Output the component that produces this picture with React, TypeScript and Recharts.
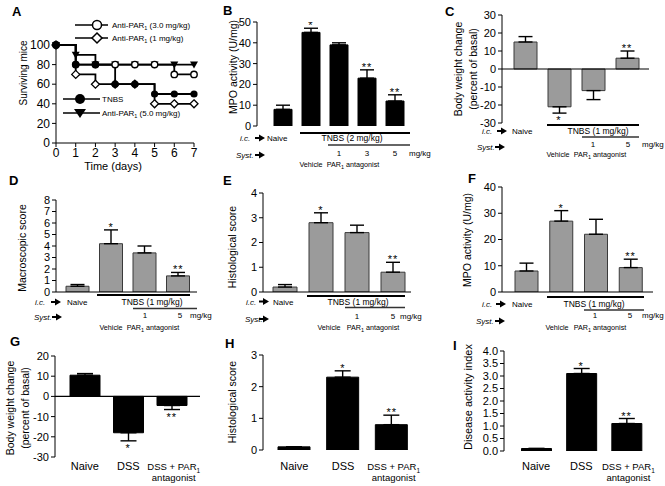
import React from 'react';
import { ComposedChart, LineChart, Bar, ErrorBar, Line, XAxis, YAxis, ReferenceLine } from 'recharts';

const FONT = '"Liberation Sans", Arial, Helvetica, sans-serif';

// A: survival (TNBS colitis)
const days = [0, 1, 2, 3, 4, 5, 6, 7];
const survTnbs = [100, 80, 80, 60, 60, 50, 50, 50];
const survPar5 = [100, 90, 80, 80, 80, 80, 80, 80];
const survPar3 = [100, 80, 80, 80, 80, 80, 70, 70];
const survPar1 = [100, 70, 60, 60, 60, 40, 40, 40];
const survTicksY = [0, 20, 40, 60, 80, 100];

// B: MPO, TNBS 2 mg/kg
const groupsB = ['Naive', 'Vehicle', '1', '3', '5'];
const mpoB = [8, 45, 39, 23, 12];
const mpoBErr = [2, 2, 1, 4, 3];
const starsB = ['', '*', '', '**', '**'];

// C-F: TNBS 1 mg/kg
const groupsTnbs = ['Naive', 'Vehicle', '1', '5'];
const starsTnbs = ['', '*', '', '**'];
const bwC = [15, -21, -12, 6];
const bwCErr = [3, 3.5, 5, 4];
const macroD = [0.5, 4.2, 3.4, 1.4];
const macroDErr = [0.15, 1.2, 0.6, 0.3];
const histoE = [0.2, 2.8, 2.4, 0.8];
const histoEErr = [0.1, 0.4, 0.3, 0.4];
const mpoF = [8, 27, 22, 9.3];
const mpoFErr = [3, 4, 5.7, 3.2];

// G-I: DSS colitis
const groupsDss = ['Naive', 'DSS', 'DSS + PAR1 antagonist'];
const starsDss = ['', '*', '**'];
const bwG = [10.5, -18, -4.5];
const bwGErr = [0.8, 4, 2];
const histoH = [0.1, 2.3, 0.8];
const histoHErr = [0, 0.2, 0.3];
const daiI = [0.1, 3.1, 1.1];
const daiIErr = [0, 0.2, 0.2];

const GRAY = '#9b9b9b';

const survData = days.map((d, i) => ({ day: d, tnbs: survTnbs[i], p5: survPar5[i], p3: survPar3[i], p1: survPar1[i] }));

const dotFilled = (p: any) => <circle key={p.index} cx={p.cx} cy={p.cy} r={3.6} fill="#000" />;
const dotOpen = (p: any) => <circle key={p.index} cx={p.cx} cy={p.cy} r={3.2} fill="#fff" stroke="#000" strokeWidth={1.4} />;
const dotDiamond = (p: any) => (
  <polygon key={p.index} points={`${p.cx},${p.cy - 4} ${p.cx + 4},${p.cy} ${p.cx},${p.cy + 4} ${p.cx - 4},${p.cy}`} fill="#fff" stroke="#000" strokeWidth={1.3} />
);
const dotTri = (p: any) => (
  <polygon key={p.index} points={`${p.cx - 4},${p.cy - 3} ${p.cx + 4},${p.cy - 3} ${p.cx},${p.cy + 4}`} fill="#000" />
);

function Survival() {
  const YW = 45, MT = 12, MR = 6, XH = 22;
  const L = 56, R = 194, T = 45, B = 143;
  const tick = { fontSize: 12, fill: '#000', fontFamily: FONT };
  return (
    <div style={{ position: 'absolute', left: L - YW, top: T - MT }}>
      <LineChart width={R - L + YW + MR} height={B - T + MT + XH} data={survData} margin={{ top: MT, right: MR, bottom: 0, left: 0 }}>
        <XAxis dataKey="day" type="number" domain={[0, 7]} ticks={days} interval={0} height={XH} tick={tick} tickSize={4} tickMargin={1} stroke="#000" />
        <YAxis type="number" domain={[0, 100]} ticks={survTicksY} interval={0} width={YW} tick={tick} tickSize={4} tickMargin={2} stroke="#000" />
        <Line type="stepAfter" dataKey="p1" stroke="#000" strokeWidth={1.8} dot={dotDiamond} activeDot={false} isAnimationActive={false} />
        <Line type="stepAfter" dataKey="p5" stroke="#000" strokeWidth={1.8} dot={dotTri} activeDot={false} isAnimationActive={false} />
        <Line type="stepAfter" dataKey="p3" stroke="#000" strokeWidth={1.8} dot={dotOpen} activeDot={false} isAnimationActive={false} />
        <Line type="stepAfter" dataKey="tnbs" stroke="#000" strokeWidth={1.8} dot={dotFilled} activeDot={false} isAnimationActive={false} />
      </LineChart>
    </div>
  );
}

function CatTick(props: any) {
  const { x, y, payload, off } = props;
  const v = String(payload.value);
  if (v.startsWith('DSS + PAR')) {
    return (
      <g fontSize={9.5} fontFamily={FONT} fill="#000">
        <text x={x + 2} y={y + off} textAnchor="middle">
          DSS + PAR<tspan fontSize={6.5} dy={3}>1</tspan>
        </text>
        <text x={x + 2} y={y + off + 11} textAnchor="middle">antagonist</text>
      </g>
    );
  }
  return (
    <text x={x} y={y + off} textAnchor="middle" fontSize={11} fontFamily={FONT} fill="#000">{v}</text>
  );
}

interface BarPanelProps {
  cats: string[]; values: number[]; errs: number[]; stars: string[];
  left: number; top: number; right: number; bottom: number;
  domain: [number, number]; ticks: number[]; fmt?: (v: number) => string;
  fill: string; barSize: number; padL: number; padR: number; capW: number;
  axisLine?: boolean; zeroLine?: boolean; catLabels?: boolean; labelOff?: number;
}

function BarPanel(p: BarPanelProps) {
  const YW = 46, MT = 14, MB = 8;
  const MR = p.catLabels ? 14 : 6;
  const XH = p.catLabels ? 36 : 1;
  const data = p.cats.map((c, i) => {
    const v = p.values[i], e = p.errs[i];
    return { cat: c, v, err: v >= 0 ? [0, e] : [e, 0], star: p.stars[i], starY: p.stars[i] ? (v >= 0 ? v + e : v - e) : null };
  });
  const tick = { fontSize: 11, fill: '#000', fontFamily: FONT };
  const renderStar = (d: any) => {
    const { cx, cy, payload, index } = d;
    if (!payload || !payload.star || cy == null || isNaN(cy)) return <g key={index} />;
    const below = payload.v < 0;
    return (
      <text key={index} x={cx} y={below ? cy + 11 : cy + 1} textAnchor="middle" fontSize={11} fontFamily={FONT} letterSpacing={1} fill="#000">{payload.star}</text>
    );
  };
  return (
    <div style={{ position: 'absolute', left: p.left - YW, top: p.top - MT }}>
      <ComposedChart width={p.right - p.left + YW + MR} height={p.bottom - p.top + MT + XH + MB} data={data} margin={{ top: MT, right: MR, bottom: MB, left: 0 }}>
        <XAxis dataKey="cat" type="category" height={XH} padding={{ left: p.padL, right: p.padR }} interval={0}
          tickLine={false} tickSize={0} tickMargin={0} axisLine={p.axisLine ? { stroke: '#000', strokeWidth: 1.2 } : false}
          tick={p.catLabels ? <CatTick off={p.labelOff} /> : false} />
        <YAxis type="number" domain={p.domain} ticks={p.ticks} interval={0} allowDataOverflow width={YW}
          tick={tick} tickSize={4} tickMargin={2} stroke="#000" tickFormatter={p.fmt} />
        {p.zeroLine && <ReferenceLine y={0} stroke="#000" strokeWidth={1.2} />}
        <Bar dataKey="v" fill={p.fill} stroke={p.fill === '#000' ? '#000' : '#3a3a3a'} strokeWidth={1} barSize={p.barSize} isAnimationActive={false}>
          <ErrorBar dataKey="err" width={p.capW} stroke="#000" strokeWidth={1.4} />
        </Bar>
        <Line dataKey="starY" stroke="none" dot={renderStar} activeDot={false} legendType="none" isAnimationActive={false} />
      </ComposedChart>
    </div>
  );
}

function Arrow({ x, y }: { x: number; y: number }) {
  return (
    <g>
      <line x1={x} y1={y} x2={x + 5} y2={y} stroke="#000" strokeWidth={2} />
      <polygon points={`${x + 4},${y - 3.5} ${x + 10},${y} ${x + 4},${y + 3.5}`} fill="#000" />
    </g>
  );
}

interface Treat {
  icX: number; icY: number; arrowX: number; naiveX: number;
  l1: number[]; tnbs: string; tnbsX: number; l2: number[];
  systX: number; systY: number; sArrowX: number; doseXs: number[]; doses: string[]; doseY: number; mgX: number;
  vehX: number; parX: number; vehY: number;
}

function Treatment(t: Treat) {
  return (
    <g fontFamily={FONT} fontSize={8} fill="#000">
      <text x={t.icX} y={t.icY} fontStyle="italic">i.c.</text>
      <Arrow x={t.arrowX} y={t.icY - 3} />
      <text x={t.naiveX} y={t.icY}>Naive</text>
      <line x1={t.l1[0]} x2={t.l1[1]} y1={t.l1[2]} y2={t.l1[2]} stroke="#000" strokeWidth={2} />
      <text x={t.tnbsX} y={t.icY} textAnchor="middle" fontSize={8.5}>{t.tnbs}</text>
      <line x1={t.l2[0]} x2={t.l2[1]} y1={t.l2[2]} y2={t.l2[2]} stroke="#333" strokeWidth={1.5} />
      <text x={t.systX} y={t.systY} fontStyle="italic">Syst.</text>
      <Arrow x={t.sArrowX} y={t.systY - 3} />
      {t.doseXs.map((x, i) => (
        <text key={i} x={x} y={t.doseY} textAnchor="middle">{t.doses[i]}</text>
      ))}
      <text x={t.mgX} y={t.doseY}>mg/kg</text>
      <text x={t.vehX} y={t.vehY} textAnchor="middle" fontSize={7.2}>Vehicle</text>
      <text x={t.parX} y={t.vehY} textAnchor="middle" fontSize={7.2}>
        PAR<tspan fontSize={5.5} dy={2}>1</tspan><tspan dy={-2}> antagonist</tspan>
      </text>
    </g>
  );
}

function VLabel({ x, y, text, size = 10.5 }: { x: number; y: number; text: string; size?: number }) {
  return (
    <text transform={`translate(${x},${y}) rotate(-90)`} textAnchor="middle" fontFamily={FONT} fontSize={size} fill="#000">{text}</text>
  );
}

function Letter({ x, y, t }: { x: number; y: number; t: string }) {
  return <text x={x} y={y} fontFamily={FONT} fontSize={13} fontWeight="bold" fill="#000">{t}</text>;
}

function Overlay() {
  return (
    <svg width={665} height={486} style={{ position: 'absolute', left: 0, top: 0, pointerEvents: 'none' }}>
      <Letter x={12} y={16} t="A" />
      <Letter x={223} y={15} t="B" />
      <Letter x={445} y={16} t="C" />
      <Letter x={9} y={185} t="D" />
      <Letter x={223} y={185} t="E" />
      <Letter x={468} y={183} t="F" />
      <Letter x={10} y={346} t="G" />
      <Letter x={225} y={348} t="H" />
      <Letter x={453} y={350} t="I" />

      {/* A legend */}
      <g fontFamily={FONT} fontSize={8} fill="#000">
        <line x1={75} x2={108} y1={25} y2={25} stroke="#000" strokeWidth={1.5} />
        <circle cx={97} cy={25} r={4.5} fill="#fff" stroke="#000" strokeWidth={1.5} />
        <text x={112} y={28}>Anti-PAR<tspan fontSize={5.5} dy={2}>1</tspan><tspan dy={-2}> (3.0 mg/kg)</tspan></text>
        <line x1={75} x2={108} y1={38} y2={38} stroke="#000" strokeWidth={1.5} />
        <polygon points="97,33 102,38 97,43 92,38" fill="#fff" stroke="#000" strokeWidth={1.5} />
        <text x={112} y={41}>Anti-PAR<tspan fontSize={5.5} dy={2}>1</tspan><tspan dy={-2}> (1 mg/kg)</tspan></text>
        <line x1={63} x2={100} y1={99} y2={99} stroke="#000" strokeWidth={1.5} />
        <circle cx={80} cy={99} r={5} fill="#000" />
        <text x={102} y={102}>TNBS</text>
        <line x1={63} x2={100} y1={113} y2={113} stroke="#000" strokeWidth={1.5} />
        <polygon points="74,109 86,109 80,118" fill="#000" />
        <text x={102} y={116}>Anti-PAR<tspan fontSize={5.5} dy={2}>1</tspan><tspan dy={-2}> (5.0 mg/kg)</tspan></text>
      </g>
      <text x={113} y={170} textAnchor="middle" fontFamily={FONT} fontSize={11} fill="#000">Time (days)</text>

      <VLabel x={27} y={73} text="Surviving mice" size={10} />
      <VLabel x={236.5} y={67} text="MPO activity (U/mg)" />
      <VLabel x={461.5} y={69} text="Body weight change" />
      <VLabel x={476.5} y={69} text="(percent of basal)" />
      <VLabel x={25.5} y={248} text="Macroscopic score" />
      <VLabel x={235.5} y={247} text="Histological score" />
      <VLabel x={470.5} y={240} text="MPO activity (U/mg)" />
      <VLabel x={13.5} y={408} text="Body weight change" />
      <VLabel x={28.5} y={408} text="(percent of basal)" />
      <VLabel x={235.5} y={402} text="Histological score" />
      <VLabel x={471.5} y={397} text="Disease activity index" size={11} />

      <Treatment icX={240} icY={141} arrowX={255} naiveX={267} l1={[300, 410, 133]} tnbs="TNBS (2 mg/kg)" tnbsX={352}
        l2={[328, 410, 145]} systX={236} systY={158} sArrowX={255} doseXs={[339, 367, 395]} doses={['1', '3', '5']} doseY={156}
        mgX={409} vehX={311} parX={353} vehY={167} />
      <Treatment icX={482} icY={134} arrowX={497} naiveX={512} l1={[547, 639, 125]} tnbs="TNBS (1 mg/kg)" tnbsX={598}
        l2={[582, 639, 137]} systX={477} systY={150} sArrowX={495} doseXs={[593, 628]} doses={['1', '5']} doseY={147}
        mgX={642} vehX={558} parX={600} vehY={157} />
      <Treatment icX={35} icY={305} arrowX={51} naiveX={67} l1={[97, 190, 295]} tnbs="TNBS (1 mg/kg)" tnbsX={152}
        l2={[133, 197, 308.5]} systX={34} systY={320} sArrowX={52} doseXs={[145, 180]} doses={['1', '5']} doseY={318}
        mgX={190} vehX={111} parX={153} vehY={330} />
      <Treatment icX={246} icY={304.5} arrowX={259} naiveX={273} l1={[307, 405, 296]} tnbs="TNBS (1 mg/kg)" tnbsX={358}
        l2={[345, 405, 307.5]} systX={245} systY={322} sArrowX={259} doseXs={[357, 393]} doses={['1', '5']} doseY={319}
        mgX={400} vehX={329} parX={373} vehY={330} />
      <Treatment icX={482} icY={307} arrowX={496} naiveX={512} l1={[547, 644, 297]} tnbs="TNBS (1 mg/kg)" tnbsX={594}
        l2={[584, 644, 310]} systX={476} systY={324} sArrowX={495} doseXs={[595, 630]} doses={['1', '5']} doseY={318}
        mgX={642} vehX={557} parX={600} vehY={330} />
    </svg>
  );
}

const ticksFrom = (a: number, b: number, s: number) => {
  const out: number[] = [];
  for (let v = a; v <= b + 1e-9; v += s) out.push(Math.round(v * 10) / 10);
  return out;
};

export default function App() {
  return (
    <div style={{ position: 'absolute', left: 0, top: 0, width: 665, height: 486, background: '#fff', overflow: 'hidden' }}>
      <Survival />
      <BarPanel cats={groupsB} values={mpoB} errs={mpoBErr} stars={starsB} left={257} right={410} top={22} bottom={126}
        domain={[0, 50]} ticks={ticksFrom(0, 50, 10)} fill="#000" barSize={18} padL={12} padR={1} capW={7} />
      <BarPanel cats={groupsTnbs} values={bwC} errs={bwCErr} stars={starsTnbs} left={502} right={649} top={15} bottom={123}
        domain={[-30, 30]} ticks={ticksFrom(-30, 30, 10)} fill={GRAY} barSize={23} padL={6} padR={5} capW={7} zeroLine />
      <BarPanel cats={groupsTnbs} values={macroD} errs={macroDErr} stars={starsTnbs} left={56} right={197} top={200} bottom={292}
        domain={[0, 8]} ticks={ticksFrom(0, 8, 1)} fill={GRAY} barSize={23} padL={5} padR={2} capW={7} axisLine />
      <BarPanel cats={groupsTnbs} values={histoE} errs={histoEErr} stars={starsTnbs} left={263} right={411} top={193} bottom={292}
        domain={[0, 4]} ticks={ticksFrom(0, 4, 1)} fill={GRAY} barSize={24} padL={4} padR={0} capW={7} axisLine />
      <BarPanel cats={groupsTnbs} values={mpoF} errs={mpoFErr} stars={starsTnbs} left={502} right={653} top={187} bottom={292}
        domain={[0, 40]} ticks={ticksFrom(0, 40, 10)} fill={GRAY} barSize={23} padL={7} padR={5} capW={7} axisLine />
      <BarPanel cats={groupsDss} values={bwG} errs={bwGErr} stars={starsDss} left={55} right={200} top={356} bottom={457}
        domain={[-30, 20]} ticks={ticksFrom(-30, 20, 10)} fill="#000" barSize={30} padL={8} padR={6.5} capW={8} zeroLine catLabels labelOff={13} />
      <BarPanel cats={groupsDss} values={histoH} errs={histoHErr} stars={starsDss} left={263} right={416} top={355} bottom={450}
        domain={[0, 3]} ticks={ticksFrom(0, 3, 1)} fill="#000" barSize={32} padL={7} padR={0} capW={8} catLabels labelOff={20} />
      <BarPanel cats={groupsDss} values={daiI} errs={daiIErr} stars={starsDss} left={504} right={649} top={351} bottom={451}
        domain={[0, 4]} ticks={ticksFrom(0, 4, 0.5)} fmt={(v: number) => v.toFixed(1)} fill="#000" barSize={30} padL={9.5} padR={0} capW={8} catLabels labelOff={19} />
      <Overlay />
    </div>
  );
}
